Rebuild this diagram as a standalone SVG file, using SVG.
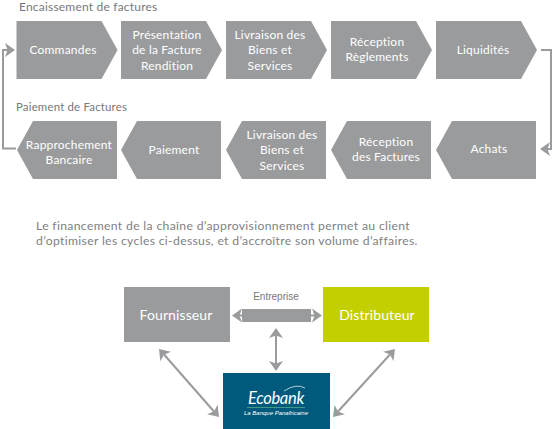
<svg xmlns="http://www.w3.org/2000/svg" width="553" height="429" viewBox="0 0 553 429">
<style>
text{font-family:"Lato","Open Sans","Liberation Sans",sans-serif}
.s{fill:#9a9b9d}
.t{fill:#fff;font-size:12px;text-anchor:middle;letter-spacing:.2px}
.h{fill:#77787b;font-size:12px;letter-spacing:.2px}
.p{fill:#808184;font-size:12.2px;letter-spacing:.33px}
.b{fill:#fff;font-size:14px;text-anchor:middle;letter-spacing:.1px}
.c{fill:none;stroke:#9a9b9d;stroke-width:2}
.d{fill:none;stroke:#9a9b9d;stroke-width:2}
.a{fill:#9a9b9d}
</style>
<defs>
<path id="r" d="M0 0H85L101 29L85 58H0Z"/>
<path id="l" d="M16 0H100V58H16L0 29Z"/>
<path id="m" d="M0 0L-10 -7L-7.500 0L-10 7Z"/>
</defs>
<text class="h" x="19" y="11">Encaissement de factures</text>
<text class="h" x="16" y="111" style="font-size:11.400px">Paiement de Factures</text>
<g id="n1"><use href="#r" class="s" x="16.500" y="21"/><text class="t" x="63" y="54">Commandes</text></g>
<g id="n2"><use href="#r" class="s" x="121" y="21"/><text class="t" x="167" y="39">Présentation</text><text class="t" x="167" y="54">de la Facture</text><text class="t" x="167" y="70">Rendition</text></g>
<g id="n3"><use href="#r" class="s" x="226" y="21"/><text class="t" x="270" y="39">Livraison des</text><text class="t" x="270" y="54">Biens et</text><text class="t" x="270" y="70">Services</text></g>
<g id="n4"><use href="#r" class="s" x="331" y="21"/><text class="t" x="377" y="46">Réception</text><text class="t" x="377" y="61">Règlements</text></g>
<g id="n5"><use href="#r" class="s" x="436" y="21"/><text class="t" x="483" y="54">Liquidités</text></g>
<g id="n6"><use href="#l" class="s" x="436" y="121"/><text class="t" x="489" y="153">Achats</text></g>
<g id="n7"><use href="#l" class="s" x="331" y="121"/><text class="t" x="386" y="146">Réception</text><text class="t" x="386" y="161">des Factures</text></g>
<g id="n8"><use href="#l" class="s" x="226" y="121"/><text class="t" x="282" y="139">Livraison des</text><text class="t" x="282" y="154">Biens et</text><text class="t" x="282" y="170">Services</text></g>
<g id="n9"><use href="#l" class="s" x="121" y="121"/><text class="t" x="174" y="154">Paiement</text></g>
<g id="n10"><use href="#l" class="s" x="17" y="121"/><text class="t" x="69" y="149">Rapprochement</text><text class="t" x="69" y="164">Bancaire</text></g>
<text class="p" x="36" y="230">Le financement de la chaîne d’approvisionnement permet au client</text>
<text class="p" x="36" y="245">d’optimiser les cycles ci-dessus, et d’accroître son volume d’affaires.</text>
<g id="n11"><rect class="s" x="124" y="287" width="106" height="55"/><text class="b" x="176" y="320">Fournisseur</text></g>
<g id="n12"><rect x="323" y="287" width="106" height="55" fill="#c4cf00"/><text class="b" x="377" y="320">Distributeur</text></g>
<g id="n13"><rect class="s" x="242" y="309" width="69" height="13"/><text x="276" y="300" fill="#77787b" font-size="10" text-anchor="middle" style="font-family:'Liberation Sans',sans-serif">Entreprise</text></g>
<g id="n14"><rect x="223" y="373" width="107" height="56" fill="#005a7c"/>
<text x="276" y="404" fill="#fff" font-size="16.500" font-style="italic" text-anchor="middle" letter-spacing="-.3" style="font-family:'Lato',sans-serif">Ecobank</text>
<path d="M284 391Q296 383 305 388" fill="none" stroke="#fff" stroke-width=".7"/>
<path d="M247 407.500H305" stroke="#3f9a8a" stroke-width="1"/>
<text x="276" y="415" fill="#fff" font-size="6" font-style="italic" text-anchor="middle" style="font-family:'Liberation Sans',sans-serif">La Banque Panafricaine</text></g>
<g id="connectors">
<path class="c" d="M16 148.500H3V50H8"/><use href="#m" class="a" transform="translate(15 50)"/>
<path class="c" d="M541 50H551V149H546"/><use href="#m" class="a" transform="translate(540 149) rotate(180)"/>
<path class="d" d="M236 315.500H242"/><use href="#m" class="a" transform="translate(232 315.500) rotate(180)"/>
<path class="d" d="M311 315.500H317"/><use href="#m" class="a" transform="translate(322 315.500)"/>
<path class="d" d="M276 332V367"/><use href="#m" class="a" transform="translate(276 328) rotate(-90)"/><use href="#m" class="a" transform="translate(276 371) rotate(90)"/>
<path class="d" d="M164 354.500L214 411.500"/><use href="#m" class="a" transform="translate(159 349) rotate(228.600)"/><use href="#m" class="a" transform="translate(219 417) rotate(48.600)"/>
<path class="d" d="M390 354.500L338 411.500"/><use href="#m" class="a" transform="translate(395 349) rotate(-47.600)"/><use href="#m" class="a" transform="translate(333 417) rotate(132.400)"/>
</g>
</svg>
